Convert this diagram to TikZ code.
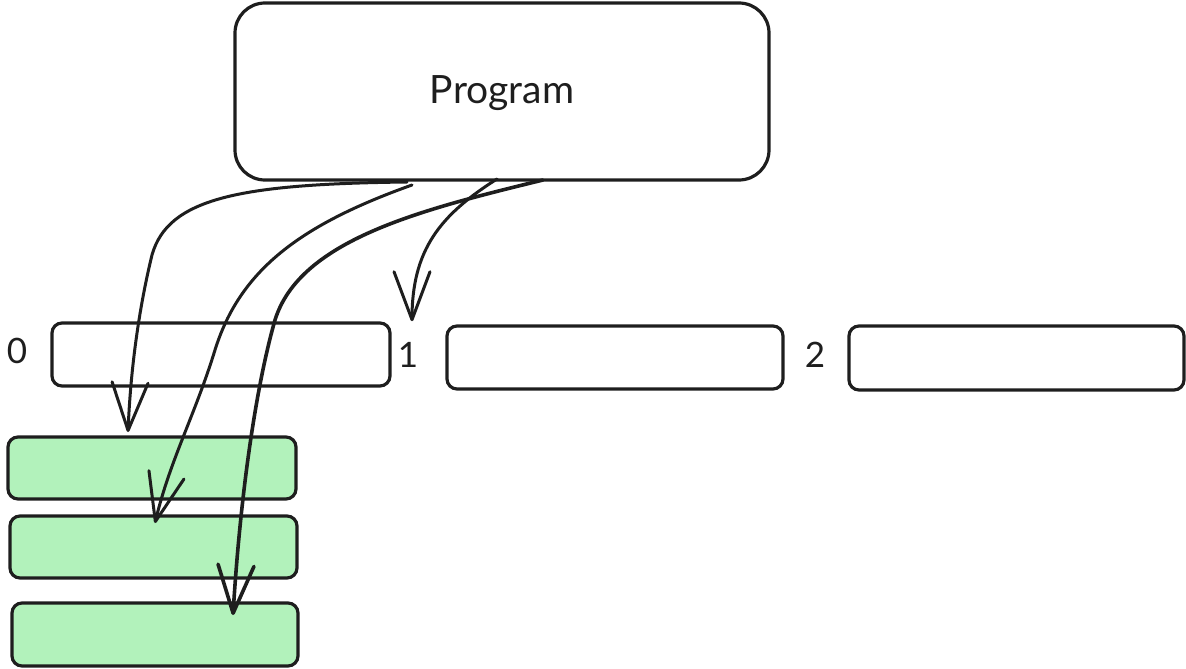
\documentclass[tikz,border=0pt]{standalone}
\usepackage{fontspec}
\setmainfont{Lato}
\usetikzlibrary{arrows.meta,calc}
\definecolor{ink}{HTML}{1E1E1E}
\definecolor{cellgreen}{HTML}{B2F2BB}
\begin{document}
\begin{tikzpicture}[x=1pt,y=-1pt,
  box/.style={draw=ink, line width=3.2pt, rounded corners=10pt, inner sep=0pt, outer sep=0pt},
  slot/.style={box, fill=white},
  cell/.style={box, fill=cellgreen},
  lbl/.style={font=\fontsize{35}{35}\selectfont, text=ink, inner sep=0pt},
  link/.style={draw=ink, line width=3pt, line cap=round, line join=round,
    -{Straight Barb[length=48pt,width=36pt,round]}}]
\useasboundingbox (0,0) rectangle (1186,669);

% program block and its caption
\node[box, rounded corners=30pt, minimum width=534pt, minimum height=177pt] (prog) at (502,91.5) {};
\node[lbl, font=\fontsize{39}{39}\selectfont, anchor=base] (title) at (502,103) {Program};

% array slots with their indices
\node[slot, minimum width=338pt, minimum height=63pt] (slot0) at (221,354.5) {};
\node[slot, minimum width=336pt, minimum height=63pt] (slot1) at (615,357.5) {};
\node[slot, minimum width=335pt, minimum height=64pt] (slot2) at (1016.5,358) {};
\node[lbl] (i0) at (17,351) {0};
\node[lbl] (i1) at (408,355) {1};
\node[lbl] (i2) at (815,355) {2};

% stacked cells hanging from slot 0
\node[cell, minimum width=288pt, minimum height=62pt] (c1) at (152,468) {};
\node[cell, minimum width=287pt, minimum height=62pt] (c2) at (153.5,547) {};
\node[cell, minimum width=286pt, minimum height=63pt] (c3) at (155,634.5) {};

% start points on the bottom edge of the program block
\coordinate (s1) at ($(prog.south west)+(172,2)$);
\coordinate (s2) at ($(prog.south west)+(177,5)$);
\coordinate (s3) at ($(prog.south west)+(308,0)$);
\coordinate (s4) at ($(prog.south west)+(262,-1)$);

% arrow tips
\coordinate (t1) at ($(c1.north west)+(120,-5)$);
\coordinate (t2) at ($(c2.north west)+(145,7)$);
\coordinate (t3) at ($(c3.north west)+(221,12)$);
\coordinate (t4) at ($(i1.north)+(4,-21)$);

\draw[link] (s1) .. controls (240,184) and (168,198) .. (152,255)
                 .. controls (141,300) and (131,360) .. (t1);
\draw[link] (s2) .. controls (300,225) and (240,270) .. (215,350)
                 .. controls (195,415) and (170,460) .. (t2);
\draw[link, line width=3.6pt] (s3) .. controls (420,210) and (300,240) .. (275,320)
                 .. controls (255,390) and (240,500) .. (t3);
\draw[link] (s4) .. controls (440,215) and (412,250) .. (t4);
\end{tikzpicture}
\end{document}
